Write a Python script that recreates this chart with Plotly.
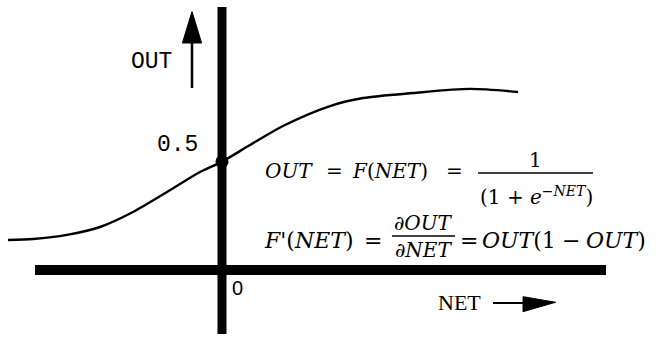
import plotly.graph_objects as go

# sigmoid curve as drawn (NET units, OUT units)
net = [-5.35, -4.725, -3.875, -3.05, -2.225, -1.375, -0.55, 0.0, 0.7, 1.525, 2.7, 3.525, 4.775, 6.2, 7.4]
out = [0.1385, 0.1432, 0.162, 0.1985, 0.2678, 0.36, 0.4524, 0.5, 0.577, 0.665, 0.757, 0.794, 0.817, 0.836, 0.822]

mid_net = [0.0]
mid_out = [0.5]

BLACK = "#000000"
MONO = "Liberation Mono, Courier New, monospace"
SERIF = "Liberation Serif, Times New Roman, serif"
EQ = "DejaVu Serif, serif"
SANS = "Liberation Sans, Arial, sans-serif"

fig = go.Figure()
fig.add_trace(go.Scatter(x=net, y=out, mode="lines",
                         line=dict(color=BLACK, width=2.4, shape="spline", smoothing=0.8),
                         hoverinfo="skip"))
fig.add_trace(go.Scatter(x=mid_net, y=mid_out, mode="markers",
                         marker=dict(color=BLACK, size=13), hoverinfo="skip"))

shapes = [
    # axes
    dict(type="line", x0=0, x1=0, y0=-0.295, y1=1.214, line=dict(color=BLACK, width=9), layer="below"),
    dict(type="line", x0=-4.675, x1=9.6, y0=0, y1=0, line=dict(color=BLACK, width=10), layer="below"),
    # OUT arrow
    dict(type="line", x0=-0.75, x1=-0.75, y0=0.84, y1=1.06, line=dict(color=BLACK, width=2.5)),
    dict(type="path", path="M -0.75,1.193 L -0.99,1.048 L -0.51,1.048 Z",
         fillcolor=BLACK, line=dict(color=BLACK, width=1)),
    # NET arrow
    dict(type="line", x0=6.775, x1=7.6, y0=-0.152, y1=-0.152, line=dict(color=BLACK, width=2)),
    dict(type="path", path="M 8.34,-0.149 L 7.525,-0.123 L 7.525,-0.1925 Z",
         fillcolor=BLACK, line=dict(color=BLACK, width=1)),
    # fraction bars
    dict(type="line", x0=6.4, x1=9.275, y0=0.448, y1=0.448, line=dict(color=BLACK, width=1.6)),
    dict(type="line", x0=4.25, x1=5.825, y0=0.157, y1=0.157, line=dict(color=BLACK, width=1.6)),
]


def txt(x, y, s, font, size, anchor="left"):
    return dict(x=x, y=y, text=s, showarrow=False, xanchor=anchor, yanchor="middle",
                font=dict(family=font, size=size, color=BLACK))


eq1 = 20
eq2 = 22
annotations = [
    txt(-1.76, 0.958, "OUT", MONO, 23, "center"),
    txt(-1.11, 0.575, "0.5", MONO, 23, "center"),
    txt(0.375, -0.081, "0", SANS, 20, "center"),
    txt(5.94, -0.148, "NET", SERIF, 22, "center"),
    # OUT = F(NET) = 1 / (1 + e^-NET)
    txt(1.025, 0.455, "<i>OUT</i>", EQ, eq1),
    txt(2.55, 0.455, "=", EQ, eq1),
    txt(3.2, 0.455, "<i>F</i>(<i>NET</i>)", EQ, eq1),
    txt(5.55, 0.455, "=", EQ, eq1),
    txt(7.825, 0.506, "1", EQ, eq1, "center"),
    txt(7.85, 0.34, "(1 + <i>e</i><sup><i>\u2212NET</i></sup>)", EQ, eq1, "center"),
    # F'(NET) = dOUT/dNET = OUT(1 - OUT)
    txt(1.0, 0.134, "<i>F'</i>(<i>NET</i>)", EQ, eq2),
    txt(3.5, 0.134, "=", EQ, eq2),
    txt(5.04, 0.219, "<i>\u2202OUT</i>", EQ, eq1, "center"),
    txt(5.04, 0.092, "<i>\u2202NET</i>", EQ, eq1, "center"),
    txt(5.9, 0.134, "=", EQ, eq2),
    txt(6.45, 0.134, "<i>OUT</i>(1", EQ, eq2),
    txt(8.72, 0.134, "\u2212", EQ, eq2, "center"),
    txt(9.05, 0.134, "<i>OUT</i>)", EQ, eq2),
]

fig.update_layout(
    width=661, height=337,
    margin=dict(l=0, r=0, t=0, b=0),
    paper_bgcolor="white", plot_bgcolor="white",
    showlegend=False,
    xaxis=dict(range=[-5.55, 10.975], visible=False, fixedrange=True),
    yaxis=dict(range=[-0.3093, 1.2465], visible=False, fixedrange=True),
    shapes=shapes,
    annotations=annotations,
)

fig.write_html("out.html", config={"displayModeBar": False},
               post_script="document.body.style.margin='0';")
